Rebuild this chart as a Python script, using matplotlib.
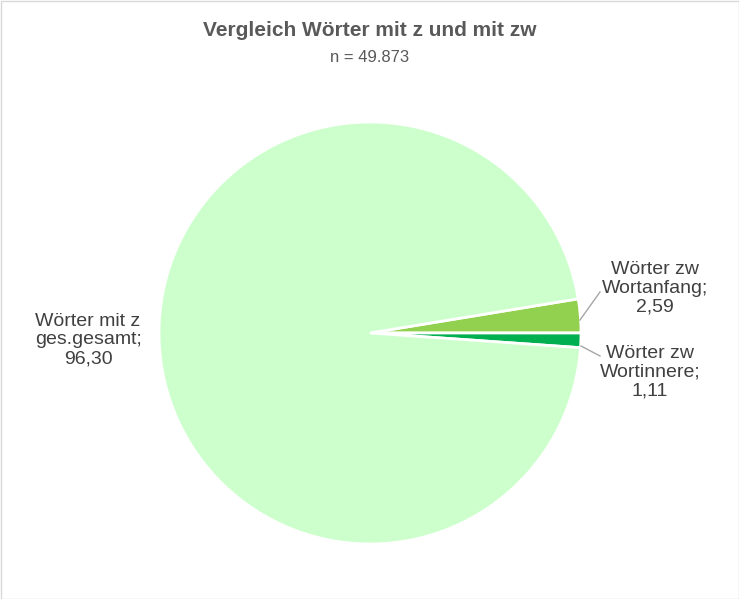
import matplotlib
matplotlib.use("Agg")
import matplotlib.pyplot as plt
from matplotlib.patches import Rectangle

categories = ["Wörter zw\nWortanfang", "Wörter zw\nWortinnere", "Wörter mit z\nges.gesamt"]
values = [2.59, 1.11, 96.30]
colors = ["#92D050", "#00B050", "#CCFFCC"]

plt.rcParams['font.family'] = ['Liberation Sans', 'DejaVu Sans']
W, H = 739, 599
fig = plt.figure(figsize=(W/100, H/100), dpi=100)
fig.patches.append(Rectangle((0.5/W, 0.5/H), 1-1/W, 1-1/H, transform=fig.transFigure,
                             fill=False, edgecolor="#D9D9D9", lw=1))
cx, cy, r = 370, 333, 211
ax = fig.add_axes([(cx-r)/W, (H-cy-r)/H, 2*r/W, 2*r/H])
start = values[0]/100*360
ax.pie(values, colors=colors, startangle=start, counterclock=False, radius=1,
       wedgeprops=dict(edgecolor="white", linewidth=2))
ax.set_xlim(-1, 1)
ax.set_ylim(-1, 1)
ax.set_aspect('equal')
ax.axis('off')

fig.text(370/W, 1-30/H, "Vergleich Wörter mit z und mit zw", ha="center", va="center",
         fontsize=15, fontweight="bold", color="#595959")
fig.text(370/W, 1-57/H, "n = 49.873", ha="center", va="center", fontsize=12, color="#595959")

def lab(v):
    return f"{v:.2f}".replace(".", ",")

fs = 14
tc = "#404040"
fig.text(88/W, 1-340/H, f"{categories[2]};\n{lab(values[2])}", ha="center", va="center",
         fontsize=fs, color=tc, linespacing=1.15)
fig.text(655/W, 1-288/H, f"{categories[0]};\n{lab(values[0])}", ha="center", va="center",
         fontsize=fs, color=tc, linespacing=1.15)
fig.text(650/W, 1-372/H, f"{categories[1]};\n{lab(values[1])}", ha="center", va="center",
         fontsize=fs, color=tc, linespacing=1.15)
fig.add_artist(plt.Line2D([580/W, 600/W], [1-320/H, 1-292/H], color="#A6A6A6", lw=1))
fig.add_artist(plt.Line2D([581/W, 600/W], [1-346/H, 1-356/H], color="#A6A6A6", lw=1))
fig.savefig("out.png", dpi=100, facecolor="white")
